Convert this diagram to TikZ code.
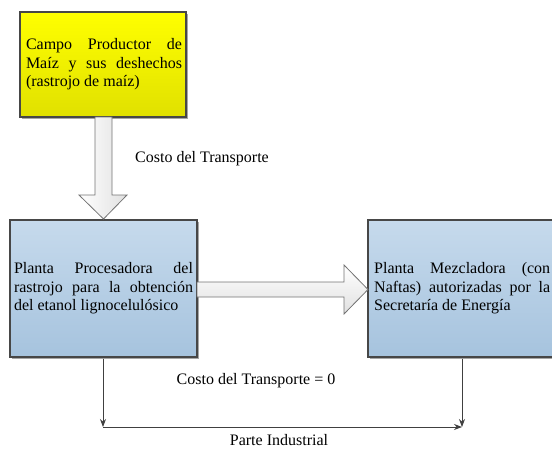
\documentclass[tikz,border=0pt]{standalone}
\usepackage{fontspec}
\setmainfont{Liberation Serif}
\usetikzlibrary{shadows,arrows.meta}
\begin{document}
\begin{tikzpicture}[x=1pt,y=-1pt,
  boxtext/.style={font=\fontsize{16}{18.5}\selectfont, align=justify, inner sep=0pt},
  panel/.style={draw=black!72, line width=2.4pt,
    drop shadow={shadow xshift=1.6pt, shadow yshift=-1.6pt, opacity=0.35, fill=black}},
  blockarrow/.style={draw=black!55, line width=0.8pt},
  conn/.style={draw=black!75, line width=0.8pt, -{Stealth[length=8pt,width=6pt]}},
  lbl/.style={font=\fontsize{16}{18.5}\selectfont, inner sep=0pt}
]
\useasboundingbox (0,0) rectangle (552,450);
\clip (0,0) rectangle (552,450);
% boxes
\path[panel, top color=yellow, bottom color=yellow!88!black] (20,12) rectangle (186,117);
\path[panel, top color={rgb,255:red,198;green,218;blue,236}, bottom color={rgb,255:red,166;green,195;blue,222}] (10,220) rectangle (197,357);
\path[panel, top color={rgb,255:red,198;green,218;blue,236}, bottom color={rgb,255:red,166;green,195;blue,222}] (368,220) rectangle (580,357);
% texts
\node[boxtext, text width=156pt, anchor=center] (campo) at (104,64.5)
  {Campo Productor de\linebreak Maíz y sus deshechos\linebreak (rastrojo de maíz)};
\node[boxtext, text width=179pt, anchor=center] (planta) at (103.5,288.5)
  {Planta Procesadora del\linebreak rastrojo para la obtención\linebreak del etanol lignocelulósico};
\node[boxtext, text width=176pt, anchor=west] (mezcla) at (374,288.5)
  {Planta Mezcladora (con\linebreak Naftas) autorizadas por la\linebreak Secretaría de Energía};
% block arrows
\draw[blockarrow, left color=white, right color=black!12]
  (95,117) -- (112,117) -- (112,195) -- (127,195) -- (103.5,219) -- (79,195) -- (95,195) -- cycle;
\draw[blockarrow, top color=white, bottom color=black!12]
  (197,282) -- (344,282) -- (344,265) -- (368,289.5) -- (344,314) -- (344,297) -- (197,297) -- cycle;
% labels
\node[lbl] (c1) at (202,159) {Costo del Transporte};
\node[lbl] (c2) at (256,381) {Costo del Transporte = 0};
\node[lbl] (pi) at (279,440) {Parte Industrial};
% connectors
\coordinate (a1) at (103,358.5);
\coordinate (a2) at (103,427);
\coordinate (b1) at (462,358.5);
\coordinate (b2) at (462,427);
\draw[conn] (a1) -- (a2);
\draw[conn] (b1) -- (b2);
\draw[conn] (a2) -- (b2);
\end{tikzpicture}
\end{document}
